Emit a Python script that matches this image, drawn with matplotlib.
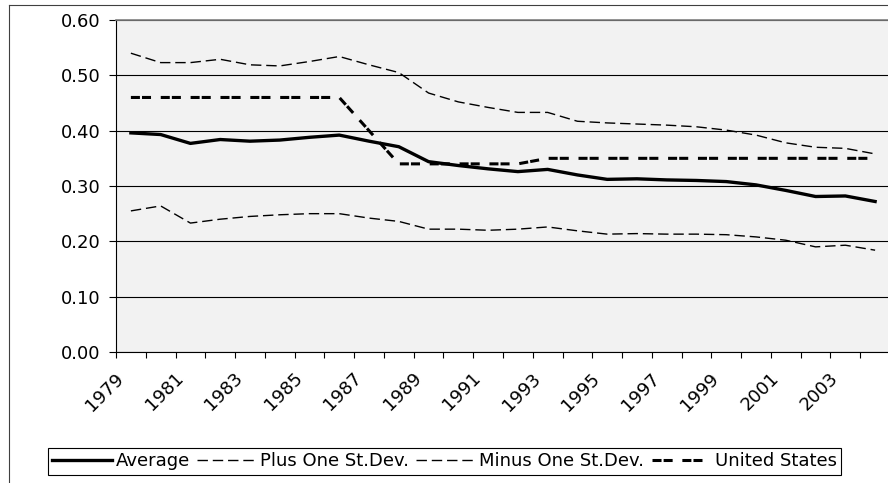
import numpy as np
import matplotlib
matplotlib.use('Agg')
import matplotlib.pyplot as plt
from matplotlib.lines import Line2D
from matplotlib.ticker import FormatStrFormatter
from matplotlib.transforms import ScaledTranslation

# data
years = list(range(1979, 2005))
average = [0.396, 0.393, 0.377, 0.384, 0.381, 0.383, 0.388, 0.392, 0.381, 0.371,
           0.344, 0.337, 0.331, 0.326, 0.330, 0.320, 0.312, 0.313, 0.311, 0.310,
           0.308, 0.302, 0.292, 0.281, 0.282, 0.272]
plus_sd = [0.540, 0.523, 0.523, 0.529, 0.519, 0.517, 0.525, 0.534, 0.519, 0.505,
           0.468, 0.452, 0.442, 0.433, 0.433, 0.417, 0.414, 0.412, 0.410, 0.407,
           0.401, 0.392, 0.378, 0.370, 0.368, 0.358]
minus_sd = [0.255, 0.264, 0.233, 0.240, 0.245, 0.248, 0.250, 0.250, 0.242, 0.236,
            0.222, 0.222, 0.220, 0.222, 0.226, 0.219, 0.213, 0.214, 0.213, 0.213,
            0.212, 0.208, 0.202, 0.190, 0.193, 0.184]
united_states = [0.46, 0.46, 0.46, 0.46, 0.46, 0.46, 0.46, 0.46, 0.40, 0.34,
                 0.34, 0.34, 0.34, 0.34, 0.35, 0.35, 0.35, 0.35, 0.35, 0.35,
                 0.35, 0.35, 0.35, 0.35, 0.35, 0.35]

plt.rcParams['font.family'] = 'DejaVu Sans'
plt.rcParams['lines.scale_dashes'] = False

W, H = 888, 483
fig = plt.figure(figsize=(W / 100, H / 100), dpi=100)
# plot area runs a little past the right edge of the picture, like the original
ax = fig.add_axes([116 / W, 1 - 352 / H, 774 / W, 332 / H])
ax.set_facecolor('#F2F2F2')

x = np.arange(len(years))
ax.plot(x, average, color='black', lw=2.4, label='Average', solid_joinstyle='round')
ax.plot(x, plus_sd, color='black', lw=1.0, dashes=(7.5, 3.5), label='Plus One St.Dev.')
ax.plot(x, minus_sd, color='black', lw=1.0, dashes=(7.5, 3.5), label='Minus One St.Dev.')
ax.plot(x, united_states, color='black', lw=2.2, dashes=(6.5, 1.5, 6.5, 7.0),
        label='United States')

ax.set_xlim(-0.5, len(years) - 0.5)
ax.set_ylim(0, 0.6)
ax.set_yticks(np.arange(0, 0.61, 0.1))
ax.yaxis.set_major_formatter(FormatStrFormatter('%.2f'))
ax.grid(axis='y', color='black', lw=0.8)
ax.set_axisbelow(True)

# tick marks between categories, labels on every other category
ax.set_xticks(np.arange(-0.5, len(years)))
ax.set_xticks(x[::2], minor=True)
ax.set_xticklabels([str(y) for y in years[::2]], minor=True, rotation=45,
                   ha='right', va='center', rotation_mode='anchor')
ax.tick_params(axis='x', which='major', length=4.3, width=0.8, labelbottom=False)
ax.tick_params(axis='x', which='minor', length=0, pad=17, labelsize=13)
ax.tick_params(axis='y', length=5, width=0.8, pad=6, labelsize=13)

# nudge the rotated year labels a bit to the left
shift = ScaledTranslation(-0.10, 0, fig.dpi_scale_trans)
for lbl in ax.get_xticklabels(minor=True):
    lbl.set_transform(lbl.get_transform() + shift)

ax.spines['left'].set_color('black')
ax.spines['bottom'].set_color('black')
ax.spines['top'].set_color('#808080')
ax.spines['top'].set_linewidth(1.2)
ax.spines['right'].set_visible(False)

leg = fig.legend(loc='center', bbox_to_anchor=(0.5006, 1 - 461.5 / H), ncol=4,
                 frameon=True, fancybox=False, edgecolor='black', fontsize=13,
                 handlelength=3.3, handletextpad=0.2, columnspacing=0.4,
                 borderpad=0.25, framealpha=1)
leg.get_frame().set_linewidth(0.8)

# chart frame (cut off at right and bottom in the reference)
fx, fy = 9 / W, 1 - 5 / H
fig.add_artist(Line2D([fx, fx], [0, fy], transform=fig.transFigure, color='#404040', lw=0.8))
fig.add_artist(Line2D([fx, 1], [fy, fy], transform=fig.transFigure, color='#404040', lw=0.8))

fig.savefig('out.png', dpi=100)
